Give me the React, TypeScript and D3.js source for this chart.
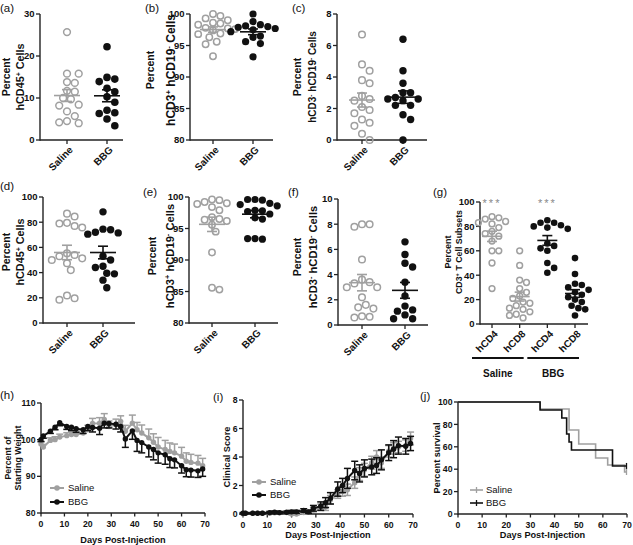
import React from 'react';
import * as d3 from 'd3';

const FONT = '"Liberation Sans", Arial, Helvetica, sans-serif';
const GREY = '#a0a0a0';
const DARK = '#111111';
const AXIS = '#222222';

// ---------------- data ----------------
const groups = ['Saline', 'BBG'];
const aSaline = [25.7, 15.8, 15.8, 13.8, 13.6, 11.7, 11.5, 10.0, 9.7, 8.4, 8.2, 6.8, 5.7, 4.5, 4.2, 4.0];
const aBBG = [22.2, 14.9, 14.5, 13.9, 12.3, 11.5, 10.3, 9.0, 7.1, 6.5, 6.3, 5.0, 3.4];
const bSaline = [100.0, 99.7, 99.3, 99.0, 98.6, 98.5, 98.3, 97.8, 97.7, 97.6, 97.4, 96.9, 96.8, 96.3, 95.6, 95.2, 93.3];
const bBBG = [100.0, 98.8, 98.3, 98.1, 98.0, 97.9, 97.7, 97.5, 97.2, 96.5, 96.3, 95.6, 95.3, 93.2];
const cSaline = [6.7, 4.8, 4.4, 3.8, 3.6, 2.8, 2.6, 2.5, 2.1, 1.9, 1.7, 1.3, 1.1, 0.9, 0.4, 0.0];
const cBBG = [6.4, 4.4, 3.6, 3.0, 3.0, 2.7, 2.6, 2.6, 2.5, 2.2, 2.2, 1.6, 1.3, 0.0];
const dSaline = [86.8, 84.5, 79.5, 79.0, 77.0, 75.8, 55.3, 54.0, 53.0, 51.3, 50.0, 47.4, 42.0, 21.8, 19.7, 18.4];
const dBBG = [88.2, 74.5, 74.0, 72.0, 71.5, 70.5, 53.0, 50.0, 45.0, 44.0, 39.5, 39.0, 34.0, 28.0];
const eSaline = [99.6, 99.5, 99.2, 99.0, 98.9, 98.4, 97.9, 96.8, 96.5, 96.4, 96.2, 95.6, 94.5, 91.2, 85.6, 85.3];
const eBBG = [99.6, 99.6, 99.5, 99.0, 98.8, 98.6, 97.9, 97.8, 97.7, 97.3, 96.7, 96.5, 93.4, 93.3, 93.4];
const fSaline = [8.0, 8.0, 7.8, 5.2, 3.6, 3.4, 3.3, 3.0, 3.0, 2.2, 1.6, 1.4, 1.3, 0.7, 0.65, 0.6];
const fBBG = [6.6, 5.6, 4.9, 4.6, 3.4, 2.3, 1.5, 1.2, 1.1, 0.8, 0.5, 0.5];
const gCats = ['hCD4', 'hCD8', 'hCD4', 'hCD8'];
const gSalineCD4 = [88, 87, 86, 84, 83, 82, 79, 76, 74, 72, 68, 60, 60, 50, 29];
const gSalineCD8 = [60, 48, 36, 34, 29, 26, 23, 21, 18, 17, 15, 13, 12, 10, 8, 7, 5];
const gBBGCD4 = [85, 83, 83, 81, 80, 79, 78, 66, 64, 62, 60, 50, 46, 42];
const gBBGCD8 = [54, 41, 33, 32, 30, 28, 26, 24, 22, 20, 18, 15, 13, 12, 7];
const gStars = ['***', '***'];

const days = [0, 1, 4, 6, 8, 11, 13, 15, 18, 20, 22, 25, 27, 29, 32, 34, 36, 39, 41, 43, 46, 48, 50, 53, 55, 57, 60, 62, 64, 67, 69];
const hSaline = [98.8, 98.0, 99.8, 100.0, 100.7, 101.1, 101.4, 101.4, 101.8, 102.7, 104.4, 104.5, 105.5, 103.6, 104.1, 105.0, 102.3, 104.5, 102.7, 101.8, 100.5, 99.3, 98.0, 97.3, 96.8, 96.4, 95.5, 94.1, 93.8, 93.6, 92.9];
const hSalineErr = [0.6, 0.7, 0.7, 0.8, 0.8, 0.8, 0.9, 0.9, 1.0, 1.2, 1.4, 1.5, 1.6, 1.5, 1.5, 1.5, 1.6, 2.2, 2.0, 2.2, 2.4, 2.3, 2.6, 2.5, 2.3, 2.4, 2.4, 2.3, 2.2, 2.1, 2.0];
const hBBG = [100.0, 101.0, 102.3, 103.4, 104.6, 103.6, 103.4, 103.0, 102.7, 103.6, 103.3, 103.1, 104.5, 104.4, 104.2, 103.6, 100.2, 102.4, 99.8, 99.2, 98.0, 97.3, 96.4, 95.9, 94.8, 94.5, 92.9, 91.8, 91.7, 91.5, 92.0];
const hBBGErr = [0.5, 0.6, 0.6, 0.7, 0.8, 0.8, 0.9, 1.0, 1.0, 1.1, 1.2, 1.7, 1.3, 1.2, 1.3, 1.5, 2.3, 2.3, 3.0, 2.8, 2.7, 2.8, 2.8, 2.6, 2.4, 2.2, 2.0, 1.9, 1.9, 1.8, 2.0];
const iSaline = [0.02, 0.05, 0.05, 0.05, 0.05, 0.05, 0.08, 0.08, 0.1, 0.0, 0.0, 0.1, 0.15, 0.3, 0.5, 0.5, 1.0, 1.4, 1.6, 1.7, 2.2, 2.8, 3.1, 3.6, 4.0, 3.6, 4.4, 4.6, 4.7, 4.8, 5.3];
const iSalineErr = [0.03, 0.05, 0.05, 0.05, 0.05, 0.05, 0.06, 0.06, 0.07, 0.06, 0.06, 0.08, 0.1, 0.15, 0.2, 0.25, 0.3, 0.3, 0.35, 0.4, 0.4, 0.45, 0.45, 0.45, 0.45, 0.4, 0.4, 0.4, 0.4, 0.4, 0.45];
const iBBG = [0.05, 0.05, 0.05, 0.05, 0.05, 0.1, 0.12, 0.1, 0.12, 0.15, 0.15, 0.25, 0.15, 0.4, 0.55, 0.8, 1.1, 1.75, 2.0, 2.5, 3.05, 2.85, 3.2, 3.3, 3.4, 3.8, 4.3, 4.55, 4.8, 4.75, 4.95];
const iBBGErr = [0.05, 0.05, 0.05, 0.05, 0.05, 0.08, 0.08, 0.08, 0.08, 0.1, 0.1, 0.12, 0.1, 0.2, 0.3, 0.35, 0.4, 0.5, 0.5, 0.7, 0.65, 0.6, 0.6, 0.55, 0.55, 0.7, 0.55, 0.6, 0.6, 0.55, 0.5];

const jSalineDays = [0, 34, 46, 50, 57, 62, 69, 70];
const jSalineSurv = [100, 93.75, 75, 62.5, 50, 43.75, 37.5, 37.5];
const jBBGDays = [0, 34, 43, 45, 46, 47, 64, 70];
const jBBGSurv = [100, 92.9, 85.7, 71.4, 64.3, 57.1, 42.9, 42.9];

const dayTicks = [0, 10, 20, 30, 40, 50, 60, 70];

// ---------------- helpers ----------------
type Seg = { t: string; sup?: boolean };
const T = (t: string): Seg => ({ t });
const S = (t: string): Seg => ({ t, sup: true });

function swarm(values: number[], y: (v: number) => number, cx: number, r: number) {
  const order = values.map((v, i) => ({ v, i })).sort((p, q) => q.v - p.v);
  const placed: { x: number; y: number }[] = [];
  const minD = 2 * r + 1.0;
  for (const { v } of order) {
    const py = y(v);
    let px = cx;
    for (let k = 0; k < 40; k++) {
      const off = k === 0 ? 0 : (k % 2 === 1 ? 1 : -1) * Math.ceil(k / 2) * (minD / 2);
      const cand = cx + off;
      if (placed.every(p => Math.hypot(p.x - cand, p.y - py) >= minD)) { px = cand; break; }
    }
    placed.push({ x: px, y: py });
  }
  return placed;
}

function RotTitle({ x, y, segs, size = 11 }: { x: number; y: number; segs: Seg[]; size?: number }) {
  return (
    <g transform={`translate(${x},${y}) rotate(-90)`}>
      <text x={0} y={0} dy="0.36em" textAnchor="middle"
        fontFamily={FONT} fontWeight="bold" fontSize={size} fill={DARK}>
        {segs.map((s, i) => s.sup
          ? <tspan key={i} baselineShift="super" fontSize={size * 0.65}>{s.t}</tspan>
          : <tspan key={i}>{s.t}</tspan>)}
      </text>
    </g>
  );
}

function PanelLabel({ x, y, t }: { x: number; y: number; t: string }) {
  return <text x={x} y={y} fontFamily={FONT} fontSize={11.5} fill={DARK}>{t}</text>;
}

function YAxis({ x, scale, ticks, size = 9.5 }: { x: number; scale: d3.ScaleLinear<number, number>; ticks: number[]; size?: number }) {
  const [r0, r1] = scale.range();
  return (
    <g>
      <line x1={x} x2={x} y1={r0 + 0.7} y2={r1} stroke={AXIS} strokeWidth={1.4} />
      {ticks.map(t => (
        <g key={t}>
          <line x1={x - 4} x2={x} y1={scale(t)} y2={scale(t)} stroke={AXIS} strokeWidth={1.3} />
          <text x={x - 5.5} y={scale(t)} dy="0.36em" textAnchor="end" fontFamily={FONT}
            fontWeight="bold" fontSize={size} fill={DARK}>{t}</text>
        </g>
      ))}
    </g>
  );
}

type DotCfg = {
  x0: number; x1: number; yTop: number; yBot: number; domain: [number, number]; ticks: number[];
  labels: string[]; catX: [number, number]; series: number[][]; colors: string[]; filled: boolean[];
  titleX: [number, number]; title2: Seg[]; titleSize: [number, number]; titleMid?: number;
  label: string; labelPos: [number, number]; r: number; meanW: number;
};

function DotPanel({ c }: { c: DotCfg }) {
  const y = d3.scaleLinear().domain(c.domain).range([c.yBot, c.yTop]);
  const x = d3.scalePoint<number>().domain(c.labels.map((_, i) => i)).range(c.catX);
  const midY = c.titleMid ?? (c.yTop + c.yBot) / 2;
  return (
    <g>
      <PanelLabel x={c.labelPos[0]} y={c.labelPos[1]} t={c.label} />
      <RotTitle x={c.titleX[0]} y={midY} segs={[T('Percent')]} size={c.titleSize[0]} />
      <RotTitle x={c.titleX[1]} y={midY} segs={c.title2} size={c.titleSize[1]} />
      <YAxis x={c.x0} scale={y} ticks={c.ticks} />
      <line x1={c.x0} x2={c.x1} y1={c.yBot} y2={c.yBot} stroke={AXIS} strokeWidth={1.4} />
      {c.labels.map((lab, i) => {
        const cx = x(i)!;
        return (
          <g key={i}>
            <line x1={cx} x2={cx} y1={c.yBot} y2={c.yBot + 4} stroke={AXIS} strokeWidth={1.3} />
            <g transform={`translate(${cx + 4},${c.yBot + 8}) rotate(-45)`}>
              <text x={0} y={0} dy="0.36em" textAnchor="end" fontFamily={FONT} fontWeight="bold" fontSize={10} fill={DARK}>{lab}</text>
            </g>
          </g>
        );
      })}
      {c.series.map((vals, i) => {
        const cx = x(i)!;
        const pts = swarm(vals, y, cx, c.r);
        const m = d3.mean(vals)!;
        const sem = d3.deviation(vals)! / Math.sqrt(vals.length);
        const col = c.colors[i];
        return (
          <g key={i}>
            {pts.map((p, k) => c.filled[i]
              ? <circle key={k} cx={p.x} cy={p.y} r={c.r + 0.4} fill={col} />
              : <circle key={k} cx={p.x} cy={p.y} r={c.r} fill="none" stroke={col} strokeWidth={1.5} />)}
            <line x1={cx - c.meanW} x2={cx + c.meanW} y1={y(m)} y2={y(m)} stroke={col} strokeWidth={1.6} />
            <line x1={cx} x2={cx} y1={y(m - sem)} y2={y(m + sem)} stroke={col} strokeWidth={1.6} />
            <line x1={cx - 5} x2={cx + 5} y1={y(m - sem)} y2={y(m - sem)} stroke={col} strokeWidth={1.6} />
            <line x1={cx - 5} x2={cx + 5} y1={y(m + sem)} y2={y(m + sem)} stroke={col} strokeWidth={1.6} />
          </g>
        );
      })}
    </g>
  );
}

const titleCD45 = [T('hCD45'), S('+'), T(' Cells')];
const titleCD3p = [T('hCD3'), S('+'), T(' hCD19'), S('-'), T(' Cells')];
const titleCD3m = [T('hCD3'), S('-'), T(' hCD19'), S('-'), T(' Cells')];
const titleSub = [T('CD3'), S('+'), T(' T Cell Subsets')];

const SG = [GREY, DARK];
const SF = [false, true];

const dotPanels: DotCfg[] = [
  { x0: 40, x1: 123, yTop: 14, yBot: 140, domain: [0, 30], ticks: [0, 10, 20, 30], labels: groups, catX: [67, 107], series: [aSaline, aBBG], colors: SG, filled: SF, titleX: [6, 20], title2: titleCD45, titleSize: [10.5, 10.8], label: '(a)', labelPos: [0, 12], r: 3.4, meanW: 13 },
  { x0: 190, x1: 273, yTop: 14, yBot: 140, domain: [80, 100], ticks: [80, 85, 90, 95, 100], labels: groups, catX: [213, 253], series: [bSaline, bBBG], colors: SG, filled: SF, titleX: [150, 171], title2: titleCD3p, titleSize: [10.5, 12], titleMid: 70, label: '(b)', labelPos: [145, 12], r: 3.2, meanW: 13 },
  { x0: 337, x1: 427, yTop: 14, yBot: 140, domain: [0, 8], ticks: [0, 2, 4, 6, 8], labels: groups, catX: [362, 403], series: [cSaline, cBBG], colors: SG, filled: SF, titleX: [297, 312], title2: titleCD3m, titleSize: [10.5, 10], label: '(c)', labelPos: [292, 12], r: 3.3, meanW: 13 },
  { x0: 43, x1: 135, yTop: 197, yBot: 323, domain: [0, 100], ticks: [0, 20, 40, 60, 80, 100], labels: groups, catX: [67, 103], series: [dSaline, dBBG], colors: SG, filled: SF, titleX: [6, 20], title2: titleCD45, titleSize: [10.5, 10.8], titleMid: 252, label: '(d)', labelPos: [0, 190], r: 3.3, meanW: 13 },
  { x0: 189, x1: 278, yTop: 197, yBot: 323, domain: [80, 100], ticks: [80, 85, 90, 95, 100], labels: groups, catX: [212, 255], series: [eSaline, eBBG], colors: SG, filled: SF, titleX: [152, 170], title2: titleCD3p, titleSize: [10.5, 11.2], titleMid: 256, label: '(e)', labelPos: [143, 196], r: 3.2, meanW: 13 },
  { x0: 338, x1: 428, yTop: 199, yBot: 325, domain: [0, 10], ticks: [0, 2, 4, 6, 8, 10], labels: groups, catX: [362, 405], series: [fSaline, fBBG], colors: SG, filled: SF, titleX: [297, 313], title2: titleCD3m, titleSize: [10.5, 11.2], titleMid: 257, label: '(f)', labelPos: [288, 196], r: 3.3, meanW: 13 },
];

const gCfg: DotCfg = {
  x0: 480, x1: 588, yTop: 202, yBot: 324, domain: [0, 100], ticks: [0, 20, 40, 60, 80, 100], labels: gCats,
  catX: [492, 575], series: [gSalineCD4, gSalineCD8, gBBGCD4, gBBGCD8], colors: [GREY, GREY, DARK, DARK],
  filled: [false, false, true, true], titleX: [448, 459], title2: titleSub, titleSize: [9, 8.8], titleMid: 252,
  label: '(g)', labelPos: [433, 196], r: 2.9, meanW: 10,
};

type TSeries = { values: number[]; err: number[]; color: string; dir: 'up' | 'down' | 'both'; name: string };

function XAxis({ scale, y, titleY }: { scale: d3.ScaleLinear<number, number>; y: number; titleY: number }) {
  const [a, b] = scale.range();
  return (
    <g>
      <line x1={a} x2={b} y1={y} y2={y} stroke={AXIS} strokeWidth={1.4} />
      {dayTicks.map(t => (
        <g key={t}>
          <line x1={scale(t)} x2={scale(t)} y1={y} y2={y + 3.5} stroke={AXIS} strokeWidth={1.3} />
          <text x={scale(t)} y={y + 11} dy="0.36em" textAnchor="middle" fontFamily={FONT}
            fontWeight="bold" fontSize={8.7} fill={DARK}>{t}</text>
        </g>
      ))}
      <text x={(a + b) / 2} y={titleY} dy="0.36em" textAnchor="middle" fontFamily={FONT}
        fontWeight="bold" fontSize={9.2} fill={DARK}>Days Post-Injection</text>
    </g>
  );
}

function TimePanel(props: {
  x0: number; x1: number; yTop: number; yBot: number; domain: [number, number]; ticks: number[];
  series: TSeries[]; titles: string[]; titleX: number[]; titleSize: number; label: string; labelPos: [number, number];
  legX: number; legY: [number, number]; titleY: number;
}) {
  const p = props;
  const x = d3.scaleLinear().domain([0, 70]).range([p.x0, p.x1]);
  const y = d3.scaleLinear().domain(p.domain).range([p.yBot, p.yTop]);
  const line = d3.line<number>().x((_, i) => x(days[i])).y(v => y(v));
  const midY = (p.yTop + p.yBot) / 2;
  return (
    <g>
      <PanelLabel x={p.labelPos[0]} y={p.labelPos[1]} t={p.label} />
      {p.titles.map((t, i) => <RotTitle key={i} x={p.titleX[i]} y={midY} segs={[T(t)]} size={p.titleSize} />)}
      <YAxis x={p.x0} scale={y} ticks={p.ticks} size={8.7} />
      <XAxis scale={x} y={p.yBot} titleY={p.titleY} />
      {p.series.map((s, si) => (
        <g key={si}>
          {s.values.map((v, i) => {
            const cx = x(days[i]);
            const lo = s.dir === 'up' ? v : v - s.err[i];
            const hi = s.dir === 'down' ? v : v + s.err[i];
            return (
              <g key={i}>
                <line x1={cx} x2={cx} y1={y(lo)} y2={y(hi)} stroke={s.color} strokeWidth={1.5} />
                {s.dir !== 'up' && <line x1={cx - 3.5} x2={cx + 3.5} y1={y(lo)} y2={y(lo)} stroke={s.color} strokeWidth={1.5} />}
                {s.dir !== 'down' && <line x1={cx - 3.5} x2={cx + 3.5} y1={y(hi)} y2={y(hi)} stroke={s.color} strokeWidth={1.5} />}
              </g>
            );
          })}
          <path d={line(s.values)!} fill="none" stroke={s.color} strokeWidth={2} />
          {s.values.map((v, i) => <circle key={i} cx={x(days[i])} cy={y(v)} r={2.7} fill={s.color} />)}
        </g>
      ))}
      {p.series.map((s, si) => (
        <g key={'l' + si}>
          <line x1={p.legX} x2={p.legX + 14} y1={p.legY[si]} y2={p.legY[si]} stroke={s.color} strokeWidth={2} />
          <circle cx={p.legX + 7} cy={p.legY[si]} r={2.8} fill={s.color} />
          <text x={p.legX + 18} y={p.legY[si]} dy="0.36em" fontFamily={FONT} fontSize={9.5} fill={DARK}>{s.name}</text>
        </g>
      ))}
    </g>
  );
}

function SurvivalPanel() {
  const x0 = 458, x1 = 627, yTop = 402, yBot = 514;
  const x = d3.scaleLinear().domain([0, 70]).range([x0, x1]);
  const y = d3.scaleLinear().domain([0, 100]).range([yBot, yTop]);
  const step = d3.line().curve(d3.curveStepAfter);
  const sets = [
    { d: jSalineDays, s: jSalineSurv, color: GREY, name: 'Saline' },
    { d: jBBGDays, s: jBBGSurv, color: DARK, name: 'BBG' },
  ];
  const legY = [490, 503];
  return (
    <g>
      <PanelLabel x={420} y={400} t="(j)" />
      <RotTitle x={437} y={458} segs={[T('Percent survival')]} size={9.2} />
      <YAxis x={x0} scale={y} ticks={[0, 20, 40, 60, 80, 100]} size={8.7} />
      <XAxis scale={x} y={yBot} titleY={535} />
      {sets.map((st, i) => {
        const pts = st.d.map((dd, k) => [x(dd), y(st.s[k])] as [number, number]);
        const last = pts[pts.length - 1];
        return (
          <g key={i}>
            <path d={step(pts)!} fill="none" stroke={st.color} strokeWidth={1.6} />
            <line x1={last[0] - 0.5} x2={last[0] - 0.5} y1={last[1] - 3} y2={last[1] + 3} stroke={st.color} strokeWidth={1.3} />
          </g>
        );
      })}
      {sets.map((st, i) => (
        <g key={'l' + i}>
          <line x1={470} x2={483} y1={legY[i]} y2={legY[i]} stroke={st.color} strokeWidth={1.6} />
          <line x1={476.5} x2={476.5} y1={legY[i] - 3} y2={legY[i] + 3} stroke={st.color} strokeWidth={1.3} />
          <text x={486} y={legY[i]} dy="0.36em" fontFamily={FONT} fontSize={9.5} fill={DARK}>{st.name}</text>
        </g>
      ))}
    </g>
  );
}

export default function App() {
  const gY = d3.scaleLinear().domain([0, 100]).range([324, 202]);
  const gX = d3.scalePoint<number>().domain([0, 1, 2, 3]).range([492, 575]);
  return (
    <svg width={633} height={545} viewBox="0 0 633 545" style={{ position: 'absolute', left: 0, top: 0, background: '#fff' }}>
      <rect width={633} height={545} fill="#fff" />
      {dotPanels.map((c, i) => <DotPanel key={i} c={c} />)}
      <DotPanel c={gCfg} />
      {gStars.map((s, i) => (
        <text key={i} x={gX(i * 2)!} y={gY(100) + 1} dy="0.36em" textAnchor="middle"
          fontFamily={FONT} fontSize={11} fill="#888" letterSpacing={2}>{s}</text>
      ))}
      {groups.map((g, i) => {
        const a = gX(i * 2)! - 20, b = gX(i * 2 + 1)! + 4;
        return (
          <g key={g}>
            <line x1={a} x2={b} y1={358} y2={358} stroke={DARK} strokeWidth={2} />
            <text x={(a + b) / 2} y={373} dy="0.36em" textAnchor="middle" fontFamily={FONT}
              fontWeight="bold" fontSize={10} fill={DARK}>{g}</text>
          </g>
        );
      })}
      <TimePanel x0={41} x1={205} yTop={403} yBot={513} domain={[80, 110]} ticks={[80, 90, 100, 110]}
        series={[
          { values: hSaline, err: hSalineErr, color: GREY, dir: 'up', name: 'Saline' },
          { values: hBBG, err: hBBGErr, color: DARK, dir: 'down', name: 'BBG' },
        ]}
        titles={['Percent of', 'Starting Weight']} titleX={[8, 18]} titleSize={8.8} label="(h)" labelPos={[0, 399]}
        legX={50} legY={[488, 502]} titleY={540} />
      <TimePanel x0={243} x1={413} yTop={400} yBot={514} domain={[0, 8]} ticks={[0, 2, 4, 6, 8]}
        series={[
          { values: iSaline, err: iSalineErr, color: GREY, dir: 'both', name: 'Saline' },
          { values: iBBG, err: iBBGErr, color: DARK, dir: 'both', name: 'BBG' },
        ]}
        titles={['Clinical Score']} titleX={[227]} titleSize={9.2} label="(i)" labelPos={[213, 401]}
        legX={252} legY={[482, 495]} titleY={535} />
      <SurvivalPanel />
    </svg>
  );
}
